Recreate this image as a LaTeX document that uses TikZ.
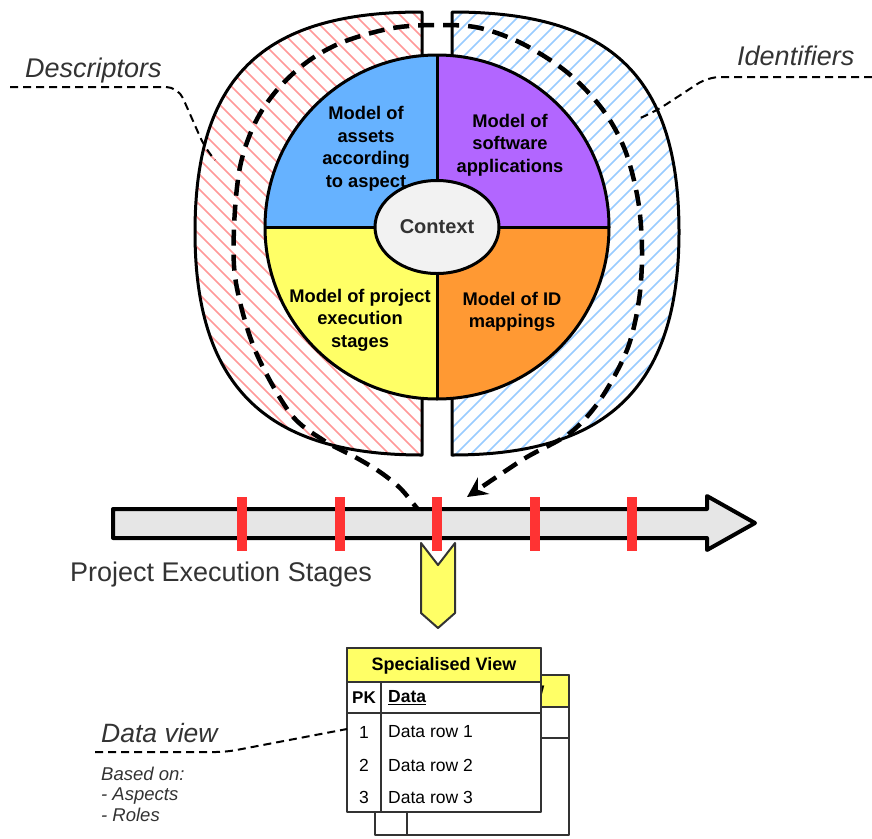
\documentclass[tikz,border=0pt]{standalone}
\usepackage{fontspec}
\setmainfont{Liberation Sans}
\usetikzlibrary{shapes.geometric,arrows.meta}
\definecolor{assetblue}{HTML}{66B2FF}
\definecolor{softpurple}{HTML}{B266FF}
\definecolor{execyellow}{HTML}{FFFF66}
\definecolor{idorange}{HTML}{FF9933}
\definecolor{ctxgray}{HTML}{F2F2F2}
\definecolor{hatchred}{HTML}{FF9999}
\definecolor{hatchblue}{HTML}{99CCFF}
\definecolor{timegray}{HTML}{E6E6E6}
\definecolor{stagered}{HTML}{FF3333}
\definecolor{labelgray}{HTML}{333333}

\newcommand{\descshield}{(422,12) .. controls (270,12) and (195,70) .. (195,232) .. controls (195,390) and (270,455) .. (422,455) -- cycle}
\newcommand{\identshield}{(452,12) .. controls (604,12) and (679,70) .. (679,232) .. controls (679,390) and (604,455) .. (452,455) -- cycle}

\tikzset{
  shieldline/.style={line width=3pt, draw=black},
  quadtext/.style={font=\bfseries\fontsize{18.3}{22.5}\selectfont, align=center},
  note/.style={font=\itshape\fontsize{27}{30}\selectfont, text=labelgray, inner sep=0pt},
  leader/.style={line width=2pt, dash pattern=on 8pt off 5pt},
  cycledash/.style={line width=4.5pt, dash pattern=on 16pt off 9pt},
  tabline/.style={line width=2.5pt, draw=labelgray},
  rowtext/.style={font=\fontsize{17.5}{20}\selectfont, inner sep=0pt}
}

\begin{document}
\begin{tikzpicture}[x=1pt, y=-1pt, line join=round]
  \useasboundingbox (0,0) rectangle (872,838);

  % Descriptors shield
  \begin{scope}
    \clip \descshield;
    \fill[white] (190,0) rectangle (430,460);
    \foreach \i in {-260,-245,...,420}
      \draw[hatchred, line width=1.5pt] (\i,0) -- ++(470,470);
  \end{scope}
  \draw[shieldline] \descshield;

  % Identifiers shield
  \begin{scope}
    \clip \identshield;
    \fill[white] (445,0) rectangle (685,460);
    \foreach \i in {-10,5,...,670}
      \draw[hatchblue, line width=1.5pt] (\i,470) -- ++(470,-470);
  \end{scope}
  \draw[shieldline] \identshield;

  % Leader lines to the shields
  \node[note, anchor=base west] (desc) at (25,77) {Descriptors};
  \coordinate (desc-a) at (10,87);
  \coordinate (desc-b) at (215,160);
  \draw[leader, rounded corners=12pt] (desc-a) -- (178,87) -- (205,148) -- (desc-b);

  \node[note, anchor=base west] (ident) at (737,65) {Identifiers};
  \coordinate (ident-a) at (872,77);
  \coordinate (ident-b) at (638,119);
  \draw[leader, rounded corners=12pt] (ident-a) -- (708,77) -- (656,111) -- (ident-b);

  % Stage cycle
  \draw[cycledash, -{Stealth[length=20pt, width=20pt, inset=7pt]}]
    plot[smooth, tension=0.55] coordinates {(437,537) (428,522) (416,507) (400,488) (380,472)
      (355,457) (323,440) (290,413) (255,350) (236,283) (234,228) (240,167) (255,123)
      (277,90) (307,62) (343,42) (393,28) (440,25) (480,28) (523,44) (568,73) (603,110)
      (625,150) (638,200) (642,250) (639,300) (627,350) (600,400) (570,433) (527,457)
      (495,478) (467,497)};

  % Models
  \coordinate (C) at (437,227);
  \begin{scope}
    \clip (C) circle (172);
    \fill[assetblue] (C) rectangle ++(-180,-180);
    \fill[softpurple] (C) rectangle ++(180,-180);
    \fill[idorange] (C) rectangle ++(180,180);
    \fill[execyellow] (C) rectangle ++(-180,180);
  \end{scope}
  \draw[shieldline] (C) circle (172);
  \draw[shieldline] (C) ++(-172,0) -- ++(344,0);
  \draw[shieldline] (C) ++(0,-172) -- ++(0,344);

  \node[quadtext] (assets) at (366,149) {Model of\\assets\\according\\to aspect};
  \node[quadtext] (software) at (510,145) {Model of\\software\\applications};
  \node[quadtext] (stages) at (360,320) {Model of project\\execution\\stages};
  \node[quadtext] (mappings) at (512,312) {Model of ID\\mappings};
  \node[ellipse, draw, line width=3pt, fill=ctxgray, minimum width=124pt, minimum height=93pt,
    font=\bfseries\fontsize{20}{24}\selectfont, text=labelgray] (ctx) at (C) {Context};

  % Timeline
  \draw[line width=4pt, fill=timegray] (113,509) -- (707,509) -- (707,496) -- (755,523)
    -- (707,550) -- (707,538) -- (113,538) -- cycle;
  \foreach \x in {242,340,437,535,632}
    \fill[stagered] (\x-5,497) rectangle (\x+5,551);
  \node[font=\fontsize{27}{30}\selectfont, text=labelgray, anchor=base west, inner sep=0pt]
    (timeline) at (70,581) {Project Execution Stages};

  % Selected stage
  \draw[line width=2pt, draw=labelgray, fill=execyellow] (421,543) -- (438,565) -- (455,543)
    -- (455,613) -- (438,628) -- (421,613) -- cycle;

  % Back view
  \draw[tabline, fill=white] (375,675) rectangle (569,835);
  \draw[tabline, fill=execyellow] (375,675) rectangle (569,707);
  \node[font=\bfseries\fontsize{18}{20}\selectfont] (back-head) at (472,691) {Specialised View};
  \draw[tabline] (375,738) -- (569,738);
  \draw[tabline] (407,707) -- (407,835);

  % Front view
  \draw[tabline, fill=white] (347,648) rectangle (541,812);
  \draw[tabline, fill=execyellow] (347,648) rectangle (541,682);
  \node[font=\bfseries\fontsize{18}{20}\selectfont] (front-head) at (444,666) {Specialised View};
  \draw[tabline] (347,713) -- (541,713);
  \draw[tabline] (381,682) -- (381,812);
  \node[rowtext, font=\bfseries\fontsize{17}{20}\selectfont] (pk) at (364,698) {PK};
  \node[rowtext, font=\bfseries\fontsize{17.5}{20}\selectfont, anchor=west] (data) at (388,698) {\underline{Data}};
  \foreach \n/\y in {1/732,2/765,3/797} {
    \node[rowtext] (key\n) at (364,\y) {\n};
    \node[rowtext, anchor=west] (row\n) at (388,\y) {Data row \n};
  }

  % Data view note
  \node[note, font=\itshape\fontsize{26.5}{30}\selectfont, anchor=base west] (dataview) at (101,742) {Data view};
  \coordinate (dv-a) at (95,752);
  \coordinate (dv-b) at (347,729);
  \draw[leader, rounded corners=10pt] (dv-a) -- (226,752) -- (dv-b);
  \node[font=\itshape\fontsize{18.5}{20.5}\selectfont, text=labelgray, align=left, anchor=base west, inner sep=0pt]
    (basis) at (101,821) {Based on:\\- Aspects\\- Roles};
\end{tikzpicture}
\end{document}
